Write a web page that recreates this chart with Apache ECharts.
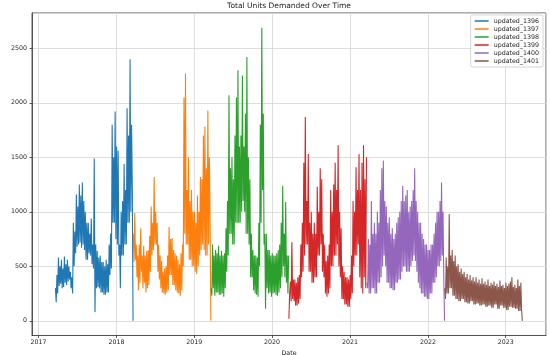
<!DOCTYPE html>
<html><head><meta charset="utf-8">
<script src="https://cdn.jsdelivr.net/npm/echarts@6/dist/echarts.min.js"></script>
<style>html,body{margin:0;padding:0;background:#fff}#c{width:550px;height:355px}</style>
</head><body><div id="c"></div>
<script>
const seriesNames = ['updated_1396','updated_1397','updated_1398','updated_1399','updated_1400','updated_1401'];
const startDates = ['2017-03-21','2018-03-21','2019-03-21','2020-03-20','2021-03-21','2022-03-21'];
const stepDays = 3.5;
const v1396 = [300,170,420,250,580,320,500,340,560,300,480,310,590,350,520,330,560,360,500,380,450,300,400,250,900,500,820,620,1160,680,1050,700,1250,720,1150,670,1270,700,1100,650,1000,560,900,560,900,620,800,600,940,520,700,480,1490,80,700,300,640,310,580,300,600,260,540,260,540,240,500,240,560,260,520,260,700,420,800,480,1800,900,1500,900,1920,750,1600,700,1560,600,700,300,1000,600,1100,600,1440,700,1200,700,1950,900,1700,900,2400,1000,1800,1200,0];
const v1397 = [800,540,990,560,700,400,600,280,700,350,850,450,600,300,690,350,600,260,640,300,650,330,780,450,1050,600,900,650,1320,700,1000,700,900,450,700,380,600,300,550,260,450,250,480,240,500,260,600,280,860,420,750,420,760,330,650,330,620,280,600,260,560,250,520,230,620,280,700,500,2050,800,2270,700,1200,700,1500,560,1100,560,1200,500,1000,500,1000,450,900,430,1150,500,1000,600,1320,650,1300,700,1700,650,1780,600,1400,600,1930,700,1500,900,0];
const v1398 = [300,230,700,300,600,230,650,260,620,260,690,240,600,240,640,250,600,220,620,300,850,450,1100,600,2070,800,1400,800,1500,700,1300,700,1700,900,2050,900,2300,900,1600,900,1700,1000,2250,1100,1600,1000,1900,800,2420,800,1500,700,1300,400,800,400,650,280,600,250,600,240,580,220,900,500,1800,900,2690,1200,1900,700,800,110,800,300,650,250,650,260,600,220,620,250,600,260,600,240,620,230,650,260,700,300,900,400,1240,500,800,400,1090,350,600,250,600];
const v1399 = [20,250,360,180,720,200,380,180,380,140,350,140,400,160,420,200,700,400,900,450,1450,600,1870,700,1100,700,1530,450,900,450,1000,350,800,350,900,400,800,400,1230,600,1000,600,1400,700,1300,450,800,400,700,250,550,220,600,250,700,300,1200,500,1000,500,1250,600,1450,600,1200,700,1610,500,1000,400,850,200,500,200,450,150,400,150,400,130,380,130,420,200,600,250,1100,500,1000,600,1410,600,1200,700,1530,400,1200,300,1450,250,1610,400,1300,300,1500];
const v1400 = [350,300,750,250,700,250,1100,300,800,300,900,250,800,250,1000,350,900,350,1200,400,1400,500,1470,600,1100,500,1050,350,900,350,950,300,800,300,850,280,750,280,800,350,900,350,950,380,1000,380,1100,450,1240,500,1100,500,1150,450,1200,450,1000,450,1050,500,1100,550,1200,600,1400,550,1100,450,1000,350,900,300,900,250,800,250,750,220,700,220,700,200,650,200,650,250,700,250,700,350,800,350,900,400,1000,500,1000,500,1100,550,1270,600,1000,400,0];
const v1401 = [300,200,580,250,500,250,980,300,600,300,650,230,550,230,600,200,500,200,520,180,450,180,480,200,430,200,450,170,400,170,430,160,380,160,420,180,370,180,400,150,360,150,400,160,350,160,380,140,340,140,390,150,340,150,360,130,330,130,380,140,320,140,350,120,330,120,360,150,320,150,340,110,310,110,370,140,320,140,330,120,300,120,350,100,320,100,340,130,360,130,400,120,310,120,330,110,300,110,380,90,320,90,350,100,0];
const yTicks = [0,500,1000,1500,2000,2500];
const xTickYears = [2017,2018,2019,2020,2021,2022,2023];
const colors = ['#1f77b4','#ff7f0e','#2ca02c','#d62728','#9467bd','#8c564b'];
const allValues = [v1396,v1397,v1398,v1399,v1400,v1401];

const DAY = 86400000;
function toData(start, vals){
  const t0 = new Date(start + 'T00:00:00').getTime();
  return vals.map((v,i)=>[t0 + i*stepDays*DAY, v]);
}
const FONT = 'DejaVu Sans';
const chart = echarts.init(document.getElementById('c'), null, {renderer:'canvas'});
chart.setOption({
  animation:false,
  backgroundColor:'#fff',
  title:{text:'Total Units Demanded Over Time', left:289, top:2, padding:0, textAlign:'center',
    textStyle:{fontFamily:FONT, fontSize:7.5, fontWeight:'normal', color:'#222'}},
  grid:{left:32, right:4, top:13, bottom:19.5, show:true, borderColor:'#333', borderWidth:0.8, containLabel:false, outerBoundsMode:'none'},
  legend:{orient:'vertical', right:7, top:15, data:seriesNames, icon:'rect', itemWidth:14, itemHeight:1.5, itemGap:2,
    padding:[3,4,3,4], borderColor:'#ccc', borderWidth:0.8, borderRadius:2, backgroundColor:'rgba(255,255,255,0.85)',
    textStyle:{fontFamily:FONT, fontSize:6.3, color:'#222'}},
  xAxis:{type:'time', min:new Date('2016-12-01T00:00:00').getTime(), max:new Date('2023-07-09T00:00:00').getTime(),
    name:'Date', nameLocation:'middle', nameGap:10, nameTextStyle:{fontFamily:FONT, fontSize:6.3, color:'#222'},
    axisLine:{show:true, onZero:false, lineStyle:{color:'#333', width:0.8}},
    axisTick:{show:true, length:2.5, lineStyle:{color:'#333', width:0.8}},
    axisLabel:{fontFamily:FONT, fontSize:6.3, color:'#222', margin:4, showMinLabel:false, showMaxLabel:false,
      formatter:(v)=>{const d=new Date(v); return (d.getMonth()===0&&d.getDate()===1&&xTickYears.indexOf(d.getFullYear())>=0)?String(d.getFullYear()):'';}},
    splitLine:{show:true, lineStyle:{color:'#d6d6d6', width:0.8}}},
  yAxis:{type:'value', min:-134.5, max:2824.5, splitNumber:6,
    name:'Units Demanded', nameLocation:'middle', nameGap:25, nameTextStyle:{fontFamily:FONT, fontSize:6.3, color:'#222'},
    axisLine:{show:true, onZero:false, lineStyle:{color:'#333', width:0.8}},
    axisTick:{show:true, length:2.5, lineStyle:{color:'#333', width:0.8}},
    axisLabel:{fontFamily:FONT, fontSize:6.3, color:'#222', margin:5, showMinLabel:false, showMaxLabel:false,
      formatter:(v)=> yTicks.indexOf(v)>=0 ? String(v) : ''},
    splitLine:{show:true, lineStyle:{color:'#d6d6d6', width:0.8}}},
  series: seriesNames.map((n,k)=>({name:n, type:'line', data:toData(startDates[k], allValues[k]),
    showSymbol:false, symbol:'none', color:colors[k], lineStyle:{width:1.1, color:colors[k]}}))
});
</script></body></html>
